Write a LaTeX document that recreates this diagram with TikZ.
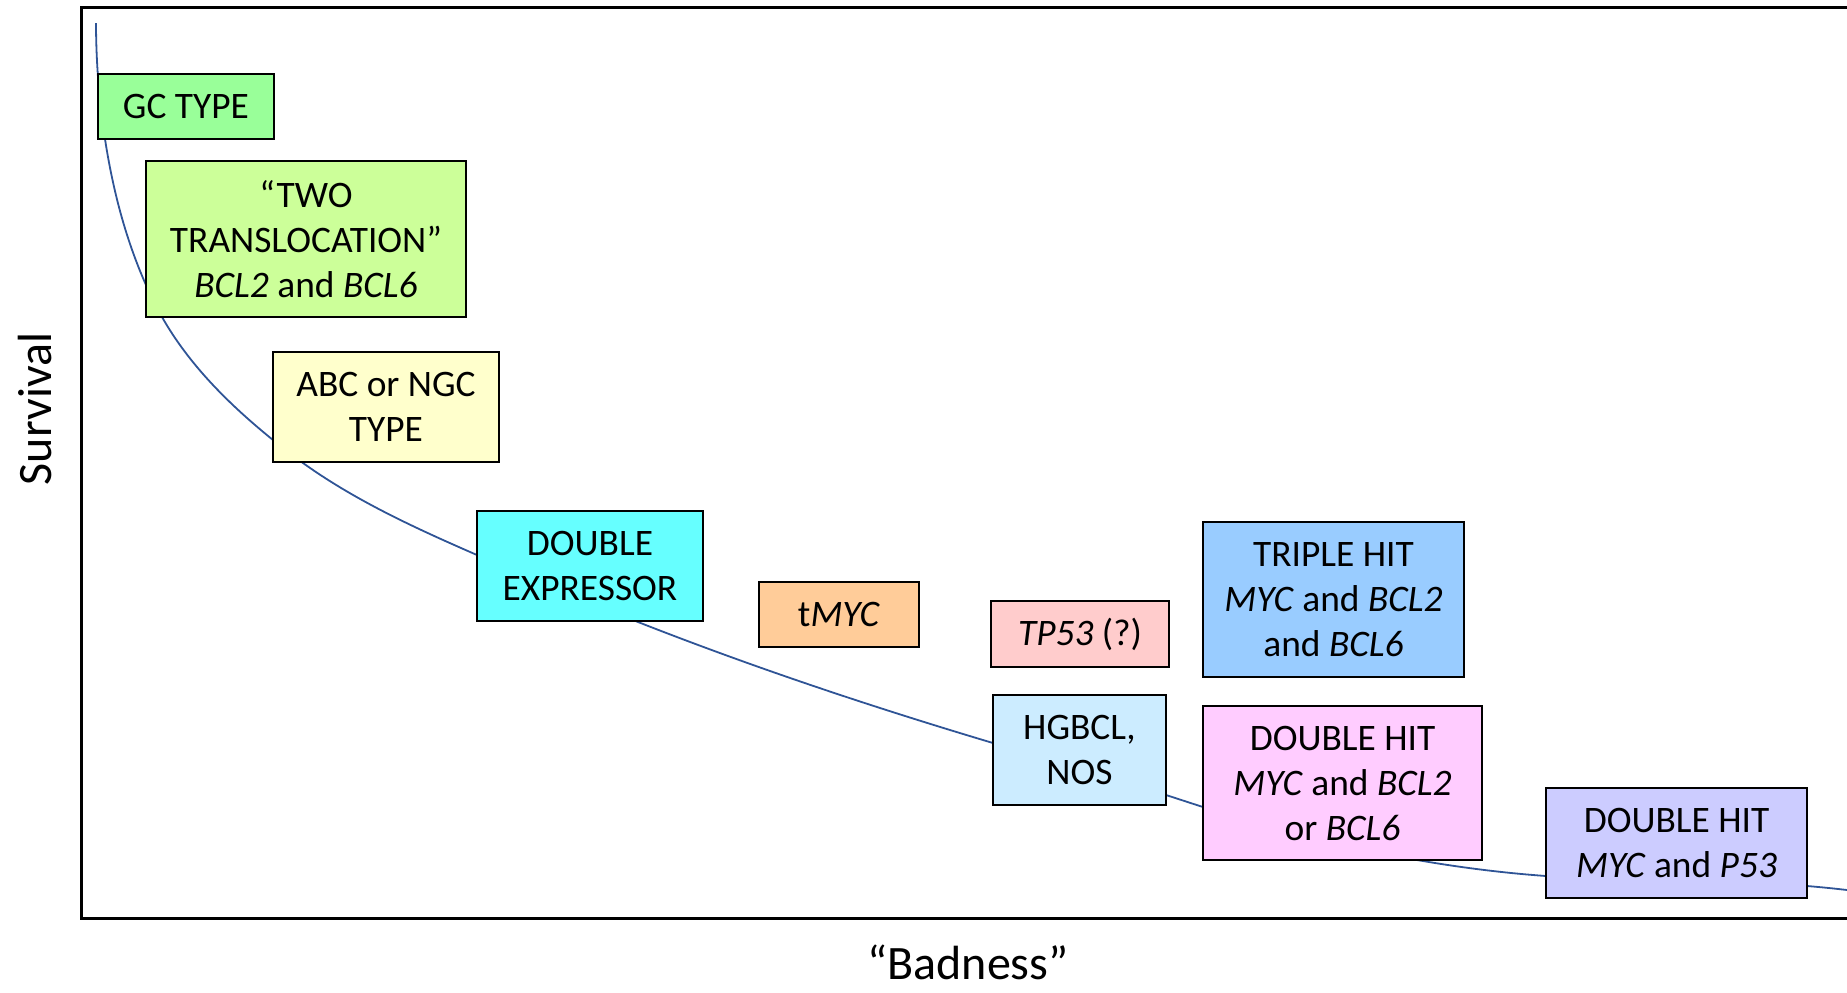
\documentclass[tikz,border=0pt]{standalone}
\usepackage{fontspec}
\setmainfont{Carlito}
\usetikzlibrary{hobby}
\definecolor{curveblue}{RGB}{47,84,150}
\definecolor{cgc}{HTML}{99FF99}
\definecolor{ctwo}{HTML}{CCFF99}
\definecolor{cabc}{HTML}{FFFFCC}
\definecolor{cde}{HTML}{66FFFF}
\definecolor{cmyc}{HTML}{FFCC99}
\definecolor{ctp}{HTML}{FFCCCC}
\definecolor{ctri}{HTML}{99CCFF}
\definecolor{chg}{HTML}{CCECFF}
\definecolor{cdhone}{HTML}{FFCCFF}
\definecolor{cdhtwo}{HTML}{CCCCFF}
\tikzset{
  box/.style={draw=black, line width=1pt, align=center, inner sep=0pt,
    font=\fontsize{18.7}{22.5}\selectfont},
  axislabel/.style={font=\fontsize{24}{29}\selectfont, inner sep=0pt},
}
\begin{document}
\begin{tikzpicture}[x=0.5pt,y=-0.5pt]
\useasboundingbox (0,0) rectangle (1847,992);
% frame
\draw[line width=1.5pt] (1847,7) -- (81,7) -- (81,918) -- (1847,918);
% curve
\draw[curveblue, line width=0.9pt, use Hobby shortcut]
 (96,23) .. (105,139) .. (146,285) .. (162,317) .. (273,440) .. (303,463)
 .. (477,555) .. (638,622) .. (993,743) .. (1166,795) .. (1203,807)
 .. (1417,860) .. (1546,876) .. (1807,886) .. (1847,890);
% boxes
\node[box, fill=cgc, minimum width=88pt, minimum height=32.5pt] (gc) at (186,106.5) {GC TYPE};
\node[box, fill=ctwo, minimum width=160pt, minimum height=78pt] (two) at (306,239)
  {“TWO\\TRANSLOCATION”\\\textit{BCL2} and \textit{BCL6}};
\node[box, fill=cabc, minimum width=113pt, minimum height=55pt] (abc) at (386,407)
  {ABC or NGC\\TYPE};
\node[box, fill=cde, minimum width=113pt, minimum height=55pt] (de) at (590,566)
  {DOUBLE\\EXPRESSOR};
\node[box, fill=cmyc, minimum width=80pt, minimum height=32.5pt] (tmyc) at (839,614.5)
  {t\textit{MYC}};
\node[box, fill=ctp, minimum width=89pt, minimum height=33pt] (tp) at (1080,634)
  {\textit{TP53} (?)};
\node[box, fill=ctri, minimum width=130.5pt, minimum height=77.5pt] (tri) at (1333.5,599.5)
  {TRIPLE HIT\\\textit{MYC} and \textit{BCL2}\\and \textit{BCL6}};
\node[box, fill=chg, minimum width=86.5pt, minimum height=55pt] (hg) at (1079.5,750)
  {HGBCL,\\NOS};
\node[box, fill=cdhone, minimum width=139.5pt, minimum height=77pt] (dhone) at (1342.5,783)
  {DOUBLE HIT\\\textit{MYC} and \textit{BCL2}\\or \textit{BCL6}};
\node[box, fill=cdhtwo, minimum width=130.5pt, minimum height=55pt] (dhtwo) at (1676.5,843)
  {DOUBLE HIT\\\textit{MYC} and \textit{P53}};
% axis labels
\node[axislabel, rotate=90] (surv) at (35,409) {Survival};
\node[axislabel, anchor=base] (bad) at (968,979) {“Badness”};
\end{tikzpicture}
\end{document}
